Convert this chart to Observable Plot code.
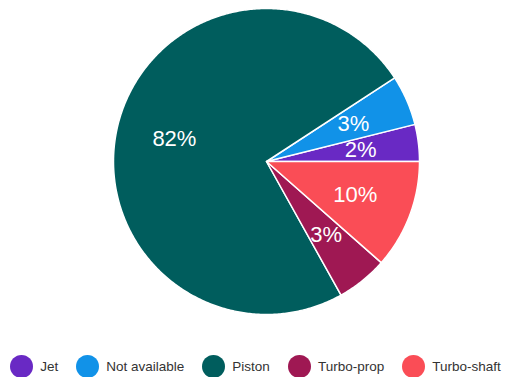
<!DOCTYPE html>
<html><head><meta charset="utf-8">
<script src="https://cdn.jsdelivr.net/npm/d3@7"></script>
<script src="https://cdn.jsdelivr.net/npm/@observablehq/plot@0.6"></script>
<style>
body{margin:0;background:#fff;overflow:hidden;font-family:"Liberation Sans",Arial,sans-serif;}
#legend{display:flex;justify-content:center;gap:18px;margin-top:25px;height:22px;align-items:center;font-size:13.5px;color:#333}
.item{display:flex;align-items:center}
.sw{width:23px;height:23px;border-radius:50%;margin-right:7px;flex:none}
</style></head><body><div id="chart"></div><div id="legend"></div>
<script>
const categories = ["Jet", "Not available", "Piston", "Turbo-prop", "Turbo-shaft"];
const shares = [3.9, 5.3, 73.9, 5.4, 11.5];
const labels = ["2%", "3%", "82%", "3%", "10%"];
const colors = ["#6929c4", "#1192e8", "#005d5d", "#9f1853", "#fa4d56"];

const total = d3.sum(shares);
let acc = 0;
const slices = categories.map((c, i) => {
  const a0 = acc / total * 2 * Math.PI; acc += shares[i];
  const a1 = acc / total * 2 * Math.PI;
  return {c, a0, a1, label: labels[i]};
});
const pts = [];
for (const s of slices) {
  pts.push({c: s.c, x: 0, y: 0});
  const n = Math.max(2, Math.ceil((s.a1 - s.a0) / 0.01));
  for (let k = 0; k <= n; k++) {
    const a = s.a0 + (s.a1 - s.a0) * k / n;
    pts.push({c: s.c, x: Math.cos(a), y: Math.sin(a)});
  }
}
const labelPts = slices.map(s => {
  const a = (s.a0 + s.a1) / 2;
  return {c: s.c, label: s.label, x: 0.62 * Math.cos(a), y: 0.62 * Math.sin(a)};
});

const chart = Plot.plot({
  width: 511, height: 330, margin: 0,
  style: {fontFamily: '"Liberation Sans", Arial, sans-serif', background: "white"},
  x: {domain: [-1, 1], range: [113, 419], axis: null},
  y: {domain: [-1, 1], range: [314, 8], axis: null},
  color: {domain: categories, range: colors},
  marks: [
    Plot.line(pts, {x: "x", y: "y", z: "c", fill: "c", stroke: "white", strokeWidth: 1.5, strokeLinejoin: "round", curve: "linear-closed"}),
    Plot.text(labelPts, {x: "x", y: "y", text: "label", fill: "white", fontSize: 22})
  ]
});
document.getElementById("chart").appendChild(chart);

const legend = document.getElementById("legend");
categories.forEach((c, i) => {
  const item = document.createElement("div"); item.className = "item";
  const sw = document.createElement("span"); sw.className = "sw"; sw.style.background = colors[i];
  const t = document.createElement("span"); t.textContent = c;
  item.appendChild(sw); item.appendChild(t); legend.appendChild(item);
});
</script></body></html>
